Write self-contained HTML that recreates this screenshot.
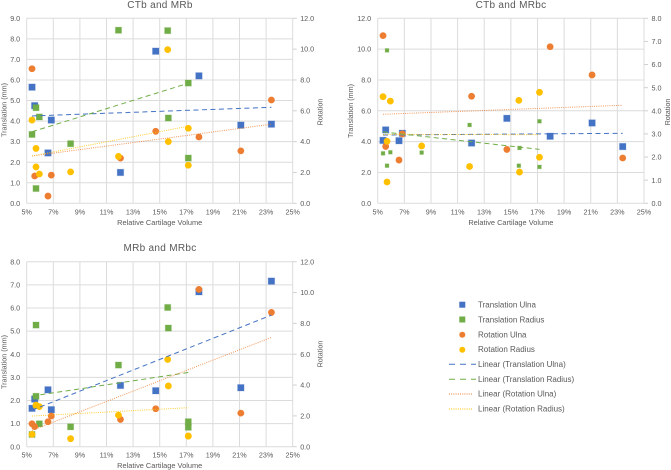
<!DOCTYPE html>
<html lang="en">
<head>
<meta charset="utf-8">
<title>Translation and rotation vs relative cartilage volume</title>
<style>
html,body{margin:0;padding:0;background:#fff;width:671px;height:470px;overflow:hidden}
svg{display:block;font-family:"Liberation Sans",sans-serif;filter:blur(0.3px)}
text{fill:#595959}
</style>
</head>
<body>
<svg id="page" width="671" height="470" viewBox="0 0 671 470" xmlns="http://www.w3.org/2000/svg">
  <text x="160" y="8" font-size="10" text-anchor="middle" letter-spacing="0.3">CTb and MRb</text>
  <text x="511" y="8" font-size="10" text-anchor="middle" letter-spacing="0.3">CTb and MRbc</text>
  <text x="160" y="251" font-size="10" text-anchor="middle" letter-spacing="0.3">MRb and MRbc</text>

  <g font-size="8">
    <rect x="459.3" y="301.7" width="6" height="6" fill="#4472C4"/>
    <text x="478" y="307.5">Translation Ulna</text>
    <rect x="459.3" y="316.5" width="6" height="6" fill="#70AD47"/>
    <text x="478" y="322.3">Translation Radius</text>
    <circle cx="462.3" cy="334.7" r="3" fill="#ED7D31"/>
    <text x="478" y="337.3">Rotation Ulna</text>
    <circle cx="462.3" cy="349.7" r="3" fill="#FFC000"/>
    <text x="478" y="352">Rotation Radius</text>
    <line x1="449" x2="476" y1="364.3" y2="364.3" stroke="#4472C4" stroke-width="1" stroke-dasharray="6 5"/>
    <text x="478" y="366.8">Linear (Translation Ulna)</text>
    <line x1="449" x2="476" y1="379.2" y2="379.2" stroke="#70AD47" stroke-width="1" stroke-dasharray="6 5"/>
    <text x="478" y="381.8">Linear (Translation Radius)</text>
    <line x1="449" x2="473" y1="394" y2="394" stroke="#ED7D31" stroke-width="1" stroke-dasharray="1 1.2"/>
    <text x="478" y="396.6">Linear (Rotation Ulna)</text>
    <line x1="449" x2="473" y1="409" y2="409" stroke="#FFC000" stroke-width="1" stroke-dasharray="1 1.2"/>
    <text x="478" y="411.5">Linear (Rotation Radius)</text>
  </g>
</svg>
<script>
/* Shared x values: relative cartilage volume (%) */
var xUlna = [5.4, 5.6, 6.6, 6.85, 12.05, 14.7, 17.95, 21.1, 23.4];
var xRadius = [5.4, 5.7, 5.7, 5.95, 8.3, 11.9, 15.6, 15.65, 17.15, 17.15];
var xTicks = [5, 7, 9, 11, 13, 15, 17, 19, 21, 23, 25];

/* Chart 1: CTb and MRb */
var c1TranslationUlna = [5.65, 4.75, 2.45, 4.05, 1.5, 7.4, 6.2, 3.8, 3.85];
var c1TranslationRadius = [3.35, 0.72, 4.65, 4.2, 2.9, 8.42, 8.4, 4.15, 5.85, 2.2];
var c1RotationUlna = [8.73, 1.77, 0.47, 1.83, 2.93, 4.67, 4.3, 3.4, 6.7];
var c1RotationRadius = [5.4, 2.36, 3.56, 1.9, 2.04, 3.04, 9.97, 4.0, 4.87, 2.47];
var c1TrendTranslationUlna = [4.25, 4.67];
var c1TrendTranslationRadius = [3.48, 5.84];
var c1TrendRotationUlna = [3.07, 5.13];
var c1TrendRotationRadius = [3.07, 5.0];
var c1LeftTicks = [0, 1, 2, 3, 4, 5, 6, 7, 8, 9];
var c1RightTicks = [0, 2, 4, 6, 8, 10, 12];

/* Chart 2: CTb and MRbc */
var c2TranslationUlna = [4.08, 4.76, 4.06, 4.54, 3.91, 5.51, 4.35, 5.21, 3.68];
var c2TranslationRadius = [3.24, 9.92, 2.44, 3.31, 3.29, 5.08, 2.44, 3.59, 5.32, 2.36];
var c2RotationUlna = [7.25, 2.46, 1.87, 3.0, 4.63, 2.33, 6.77, 5.55, 1.96];
var c2RotationRadius = [4.61, 0.92, 2.68, 4.42, 2.48, 1.59, 4.45, 1.35, 4.8, 1.99];
var c2TrendTranslationUlna = [4.43, 4.54];
var c2TrendTranslationRadius = [4.63, 3.5];
var c2TrendRotationUlna = [3.85, 4.24];
var c2TrendRotationRadius = [2.98, 2.97];
var c2LeftTicks = [0, 2, 4, 6, 8, 10, 12];
var c2RightTicks = [0, 1, 2, 3, 4, 5, 6, 7, 8];

/* Chart 3: MRb and MRbc */
var c3TranslationUlna = [1.66, 2.06, 2.46, 1.6, 2.65, 2.42, 6.7, 2.55, 7.16];
var c3TranslationRadius = [0.53, 5.26, 2.18, 0.99, 0.86, 3.53, 6.02, 5.13, 1.08, 0.84];
var c3RotationUlna = [1.49, 1.3, 1.62, 1.99, 1.77, 2.46, 10.2, 2.18, 8.71];
var c3RotationRadius = [0.8, 2.7, 2.66, 2.6, 0.52, 2.05, 5.66, 3.94, 0.69, 0.69];
var c3TrendTranslationUlna = [1.58, 5.69];
var c3TrendTranslationRadius = [2.19, 3.21];
var c3TrendRotationUlna = [1.06, 7.09];
var c3TrendRotationRadius = [1.99, 2.53];
var c3LeftTicks = [0, 1, 2, 3, 4, 5, 6, 7, 8];
var c3RightTicks = [0, 2, 4, 6, 8, 10, 12];

var NS = 'http://www.w3.org/2000/svg';
var page = document.getElementById('page');

function make(tag, attrs, parent, txt) {
  var node = document.createElementNS(NS, tag);
  for (var k in attrs) { node.setAttribute(k, attrs[k]); }
  if (txt !== undefined) { node.textContent = txt; }
  parent.appendChild(node);
  return node;
}

function drawChart(cfg) {
  var g = make('g', {}, page);
  
  

  function xScale(v) { return cfg.left + (v - 5) / 20 * (cfg.right - cfg.left); }
  function yLeft(v) { return cfg.bottom - v / cfg.leftMax * (cfg.bottom - cfg.top); }
  function yRight(v) { return cfg.bottom - v / cfg.rightMax * (cfg.bottom - cfg.top); }

  cfg.leftTicks.forEach(function (t) {
    var line = make('line', {x1: cfg.left, x2: cfg.right, y1: yLeft(t), y2: yLeft(t), stroke: '#dcdcdc', 'stroke-width': 1}, g);
    
    
    var label = make('text', {x: cfg.left - 6.5, y: yLeft(t) + 2.6, 'font-size': 7.2, 'text-anchor': 'end'}, g, t.toFixed(1));
    
    
  });
  xTicks.forEach(function (t) {
    var line = make('line', {x1: xScale(t), x2: xScale(t), y1: cfg.top, y2: cfg.bottom, stroke: '#dcdcdc', 'stroke-width': 1}, g);
    
    
    var label = make('text', {x: xScale(t), y: cfg.bottom + 11, 'font-size': 7.2, 'text-anchor': 'middle'}, g, t + '%');
    
    
  });
  cfg.rightTicks.forEach(function (t) {
    var tick = make('line', {x1: cfg.right, x2: cfg.right + 4, y1: yRight(t), y2: yRight(t), stroke: '#d0d0d0', 'stroke-width': 1}, g);
    
    
    var label = make('text', {x: cfg.right + 7.5, y: yRight(t) + 2.6, 'font-size': 7.2}, g, t.toFixed(1));
    
    
  });

  var xTitle = make('text', {x: (cfg.left + cfg.right) / 2, y: cfg.bottom + 21.5, 'font-size': 7.4, 'text-anchor': 'middle'}, g, 'Relative Cartilage Volume');
  
  
  var lx = cfg.leftTitleX, ly = cfg.leftTitleY;
  var leftTitle = make('text', {x: lx, y: ly, 'font-size': 7.2, 'text-anchor': 'middle', transform: 'rotate(-90 ' + lx + ' ' + ly + ')'}, g, 'Translation (mm)');
  
  
  var rx = cfg.rightTitleX, ry = cfg.rightTitleY;
  var rightTitle = make('text', {x: rx, y: ry, 'font-size': 7.2, 'text-anchor': 'middle', transform: 'rotate(-90 ' + rx + ' ' + ry + ')'}, g, 'Rotation');
  
  

  cfg.translationUlna.forEach(function (v, i) {
    var s = 6.5;
    var m = make('rect', {x: xScale(xUlna[i]) - s / 2, y: yLeft(v) - s / 2, width: s, height: s, fill: '#4472C4', stroke: '#4472C4', 'stroke-opacity': 0.22, 'stroke-width': 1}, g);
    
    
  });
  cfg.translationRadius.forEach(function (v, i) {
    var s = cfg.radiusSquare;
    var m = make('rect', {x: xScale(xRadius[i]) - s / 2, y: yLeft(v) - s / 2, width: s, height: s, fill: '#70AD47', stroke: '#70AD47', 'stroke-opacity': 0.22, 'stroke-width': 1}, g);
    
    
  });
  cfg.rotationUlna.forEach(function (v, i) {
    var m = make('circle', {cx: xScale(xUlna[i]), cy: yRight(v), r: 3.4, fill: '#ED7D31'}, g);
    
    
  });
  cfg.rotationRadius.forEach(function (v, i) {
    var m = make('circle', {cx: xScale(xRadius[i]), cy: yRight(v), r: 3.4, fill: '#FFC000'}, g);
    
    
  });

  var xUlnaFirst = xUlna[0], xUlnaLast = xUlna[xUlna.length - 1];
  var xRadiusFirst = xRadius[0], xRadiusLast = xRadius[xRadius.length - 1];

  var t1 = make('line', {x1: xScale(xUlnaFirst), x2: xScale(xUlnaLast), y1: yLeft(cfg.trendTranslationUlna[0]), y2: yLeft(cfg.trendTranslationUlna[1]), stroke: '#4472C4', 'stroke-width': 1, 'stroke-dasharray': '5 3.5'}, g);
  
  
  var t2 = make('line', {x1: xScale(xRadiusFirst), x2: xScale(xRadiusLast), y1: yLeft(cfg.trendTranslationRadius[0]), y2: yLeft(cfg.trendTranslationRadius[1]), stroke: '#70AD47', 'stroke-width': 1, 'stroke-dasharray': '5 3.5'}, g);
  
  
  var t3 = make('line', {x1: xScale(xUlnaFirst), x2: xScale(xUlnaLast), y1: yRight(cfg.trendRotationUlna[0]), y2: yRight(cfg.trendRotationUlna[1]), stroke: '#ED7D31', 'stroke-width': 1, 'stroke-opacity': 0.8, 'stroke-dasharray': '1 1.2'}, g);
  
  
  var t4 = make('line', {x1: xScale(xRadiusFirst), x2: xScale(xRadiusLast), y1: yRight(cfg.trendRotationRadius[0]), y2: yRight(cfg.trendRotationRadius[1]), stroke: '#FFC000', 'stroke-width': 1, 'stroke-opacity': 0.8, 'stroke-dasharray': '1 1.2'}, g);
  
  
}

drawChart({
  left: 26.7, right: 292.7, top: 18.3, bottom: 203.3, leftMax: 9, rightMax: 12,
  leftTicks: c1LeftTicks, rightTicks: c1RightTicks, radiusSquare: 6.2,
  leftTitleX: 6.5, leftTitleY: 110, rightTitleX: 322.5, rightTitleY: 112,
  translationUlna: c1TranslationUlna, translationRadius: c1TranslationRadius,
  rotationUlna: c1RotationUlna, rotationRadius: c1RotationRadius,
  trendTranslationUlna: c1TrendTranslationUlna, trendTranslationRadius: c1TrendTranslationRadius,
  trendRotationUlna: c1TrendRotationUlna, trendRotationRadius: c1TrendRotationRadius
});
drawChart({
  left: 377.7, right: 644, top: 18.3, bottom: 203.3, leftMax: 12, rightMax: 8,
  leftTicks: c2LeftTicks, rightTicks: c2RightTicks, radiusSquare: 3.8,
  leftTitleX: 353, leftTitleY: 111, rightTitleX: 670, rightTitleY: 112,
  translationUlna: c2TranslationUlna, translationRadius: c2TranslationRadius,
  rotationUlna: c2RotationUlna, rotationRadius: c2RotationRadius,
  trendTranslationUlna: c2TrendTranslationUlna, trendTranslationRadius: c2TrendTranslationRadius,
  trendRotationUlna: c2TrendRotationUlna, trendRotationRadius: c2TrendRotationRadius
});
drawChart({
  left: 26.7, right: 292.7, top: 261.7, bottom: 446.7, leftMax: 8, rightMax: 12,
  leftTicks: c3LeftTicks, rightTicks: c3RightTicks, radiusSquare: 6.2,
  leftTitleX: 6.5, leftTitleY: 362, rightTitleX: 322.5, rightTitleY: 354,
  translationUlna: c3TranslationUlna, translationRadius: c3TranslationRadius,
  rotationUlna: c3RotationUlna, rotationRadius: c3RotationRadius,
  trendTranslationUlna: c3TrendTranslationUlna, trendTranslationRadius: c3TrendTranslationRadius,
  trendRotationUlna: c3TrendRotationUlna, trendRotationRadius: c3TrendRotationRadius
});
</script>
</body>
</html>
